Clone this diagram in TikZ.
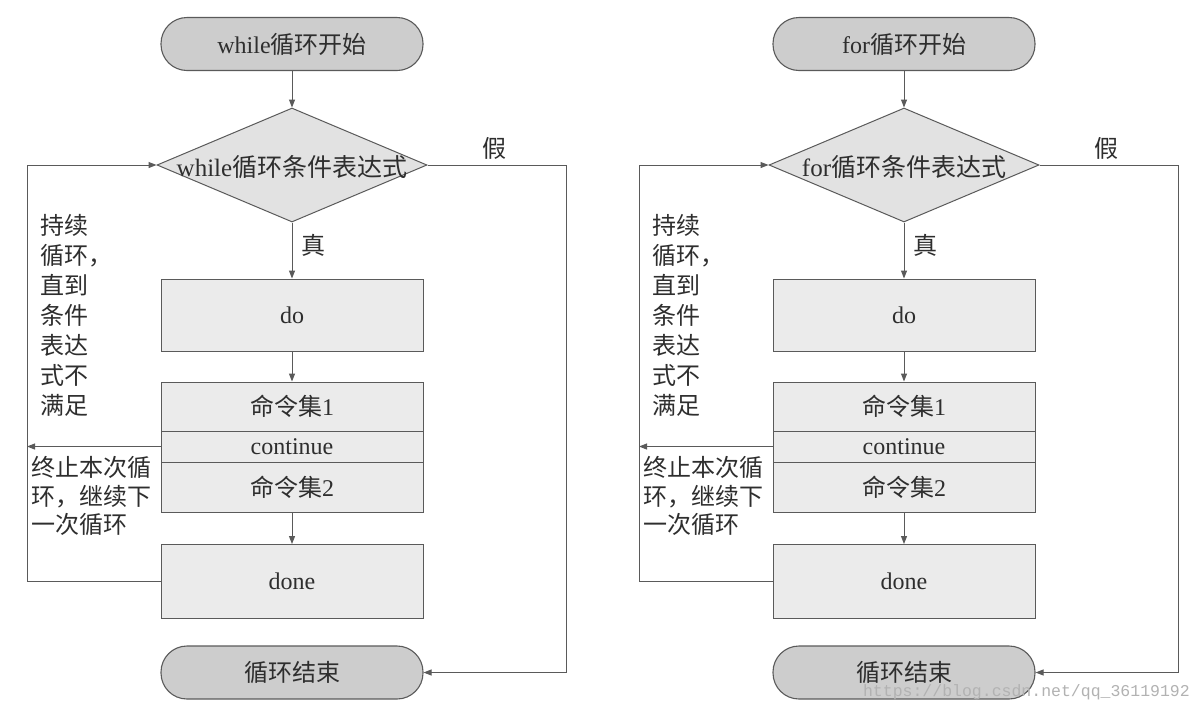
\documentclass[tikz,border=0pt]{standalone}
\usepackage{fontspec}
\setmainfont{Liberation Serif}
\newfontfamily\cjk{Noto Sans CJK SC}
\newfontfamily\wmfont{Liberation Mono}
\usetikzlibrary{shapes.geometric,arrows.meta}
\definecolor{lineC}{HTML}{5A5A5A}
\definecolor{textC}{HTML}{2E2E2E}
\definecolor{termfill}{HTML}{CDCDCD}
\definecolor{boxfill}{HTML}{EBEBEB}
\definecolor{condfill}{HTML}{E2E2E2}
\tikzset{
  term/.style={draw=lineC, line width=1.1pt, fill=termfill, rectangle, rounded corners=26pt,
    minimum width=262pt, minimum height=53pt, inner sep=0pt, text=textC,
    font=\fontsize{24}{28}\selectfont},
  stepbox/.style={draw=lineC, line width=1pt, fill=boxfill, rectangle,
    minimum width=262pt, inner sep=0pt, text=textC, font=\fontsize{24}{28}\selectfont},
  cond/.style={diamond, draw=lineC, line width=1pt, fill=condfill,
    minimum width=270pt, minimum height=114pt, inner sep=0pt},
  condtext/.style={text=textC, inner sep=0pt, font=\fontsize{25}{28}\selectfont},
  arr/.style={draw=lineC, line width=1pt, -{Triangle[length=8pt,width=6pt]}},
  lbl/.style={text=textC, inner sep=0pt, font=\cjk\fontsize{24}{28}\selectfont},
}
\newcommand{\loopchart}[3]{%
\begin{scope}[xshift=#2]
  \node[term] (#1start) at (292,44) {#3{\cjk 循环开始}};
  \node[cond] (#1cond) at (292,165) {};
  \node[condtext] (#1condt) at (292,167) {#3{\cjk 循环条件表达式}};
  \node[stepbox, minimum height=72pt] (#1do) at (292,315) {do};
  \node[stepbox, minimum height=49pt] (#1ca) at (292,406.5) {{\cjk 命令集}1};
  \node[stepbox, minimum height=31pt] (#1cont) at (292,446.5) {continue};
  \node[stepbox, minimum height=50pt] (#1cb) at (292,487) {{\cjk 命令集}2};
  \node[stepbox, minimum height=74pt] (#1done) at (292,581.5) {done};
  \node[term] (#1end) at (292,672.5) {\cjk 循环结束};
  \coordinate (#1L) at (27,0);
  \coordinate (#1R) at (566,0);
  \node[lbl] (#1false) at (494,148) {假};
  \node[lbl] (#1true) at (313,245) {真};
  \node[lbl, align=left, anchor=west, font=\cjk\fontsize{24}{30}\selectfont] (#1keep) at (40,315)
    {持续\\循环，\\直到\\条件\\表达\\式不\\满足};
  \node[lbl, align=left, anchor=west, font=\cjk\fontsize{24}{28.5}\selectfont] (#1stop) at (31,496)
    {终止本次循\\环，继续下\\一次循环};
  \draw[arr] (#1start) -- (#1cond);
  \draw[arr] (#1cond.south) -- (#1do.north);
  \draw[arr] (#1do) -- (#1ca);
  \draw[arr] (#1cb) -- (#1done);
  \draw[arr] (#1cont.west) -- (#1cont.west -| #1L);
  \draw[arr] (#1done.west) -- (#1done.west -| #1L) |- (#1cond.west);
  \draw[arr] (#1cond.east) -- (#1cond.east -| #1R) |- (#1end.east);
\end{scope}}
\begin{document}
\begin{tikzpicture}[x=1pt,y=-1pt]
  \useasboundingbox (0,0) rectangle (1201,713);
  \fill[white] (0,0) rectangle (1201,713);
  \loopchart{w}{0pt}{while}
  \loopchart{f}{612pt}{for}
  \node[text=black!30, inner sep=0pt, anchor=east, font=\wmfont\fontsize{16.5}{18}\selectfont]
    (wm) at (1190,692) {https://blog.csdn.net/qq\_36119192};
\end{tikzpicture}
\end{document}
